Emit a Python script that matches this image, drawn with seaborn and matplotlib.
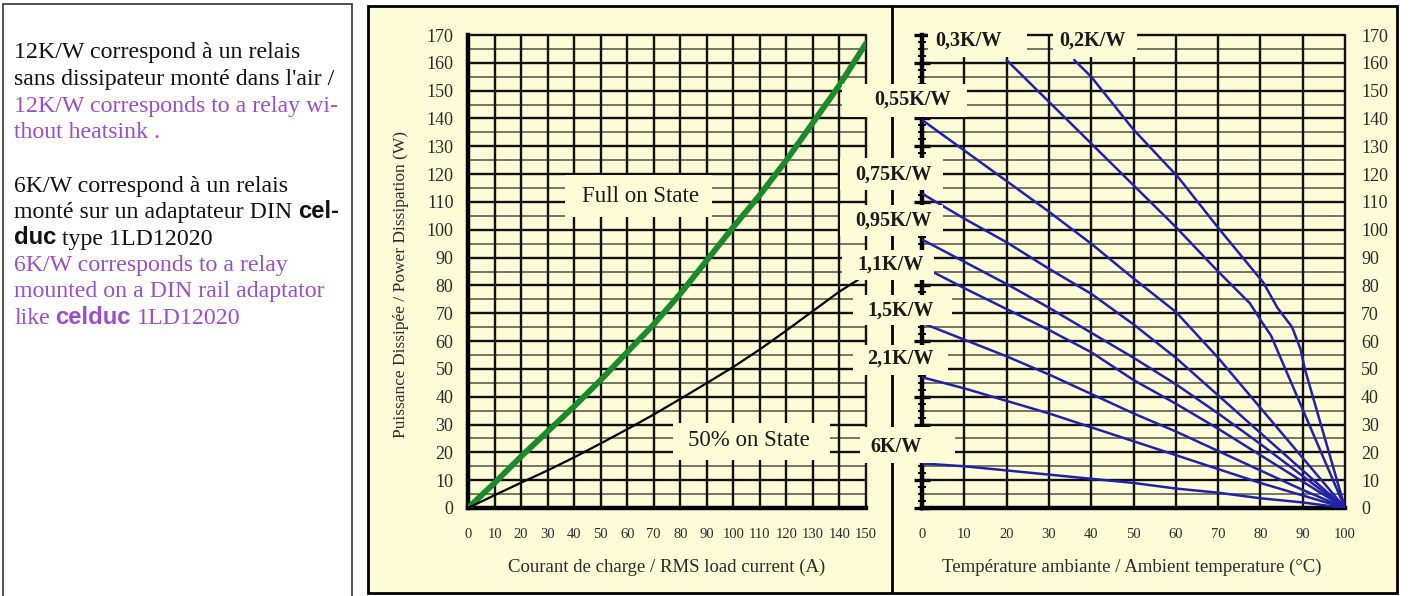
import numpy as np
import pandas as pd
import matplotlib
matplotlib.use("Agg")
import matplotlib.pyplot as plt
import seaborn as sns
from matplotlib.ticker import MultipleLocator
from matplotlib.patches import Rectangle
from matplotlib.lines import Line2D

# power dissipation vs RMS load current
current = [0, 10, 20, 30, 40, 50, 60, 70, 80, 90, 100, 110, 120, 130, 140, 150]
full_on = [0, 9, 18.5, 27.5, 36.5, 46, 56, 66, 77, 89, 101, 112.5, 125, 138.5, 152, 167]
half_current = [0, 10, 20, 30, 40, 50, 60, 70, 80, 90, 100, 110, 120, 130, 140, 147]
half_on = [0, 4.6, 9.1, 13.5, 18.2, 23.2, 28.3, 33.6, 39.2, 44.9, 50.7, 57, 63.8, 70.8, 77.8, 82]

# derating curves: power vs ambient temperature, one per heatsink rating
t_02 = [36, 40, 50, 60.5, 70.4, 80.7, 84, 87.5, 89.5, 90.5, 100]
p_02 = [161, 155, 136, 119, 100, 81, 72, 65, 57, 50, 0]
t_03 = [20, 30, 40, 50, 60, 70, 77.5, 80.5, 82.5, 100]
p_03 = [161, 146, 131, 116, 101, 85, 73.6, 66.5, 62, 0]
t_055 = [0, 10, 20, 30, 40, 50, 60, 70, 80, 90, 100]
p_055 = [139.5, 128.5, 117.5, 106.5, 95, 82.5, 70.5, 54, 36, 18, 0]
t_075 = [0, 10, 20, 30, 40, 50, 60, 70, 80, 90, 100]
p_075 = [113, 104, 95.5, 86, 77, 66, 54, 40.5, 27, 13.5, 0]
t_095 = [0, 10, 20, 30, 40, 50, 60, 70, 80, 90, 100]
p_095 = [96.5, 88.5, 80.5, 72, 63, 54, 44.5, 34, 23, 11.5, 0]
t_11 = [3, 10, 20, 30, 40, 50, 60, 70, 80, 90, 100]
p_11 = [84.5, 79, 71.5, 64, 56, 46, 37.5, 28.5, 19, 9.5, 0]
t_15 = [0, 10, 20, 30, 40, 50, 60, 70, 80, 90, 100]
p_15 = [66.5, 60.5, 54.5, 48, 41, 34, 27.5, 20.5, 13.5, 6.5, 0]
t_21 = [0, 10, 20, 30, 40, 50, 60, 70, 80, 90, 100]
p_21 = [47, 43, 38.5, 34, 29, 24, 19, 14, 9, 4.5, 0]
t_6 = [0, 10, 20, 30, 40, 50, 60, 70, 80, 90, 100]
p_6 = [16, 15, 13.5, 12, 10.5, 9, 7, 5.5, 3.5, 2, 0]

ratings = ["0,2K/W", "0,3K/W", "0,55K/W", "0,75K/W", "0,95K/W", "1,1K/W", "1,5K/W", "2,1K/W", "6K/W"]
temps = [t_02, t_03, t_055, t_075, t_095, t_11, t_15, t_21, t_6]
powers = [p_02, p_03, p_055, p_075, p_095, p_11, p_15, p_21, p_6]

derate = pd.concat([pd.DataFrame({"temp": t, "power": p, "rating": r})
                    for r, t, p in zip(ratings, temps, powers)], ignore_index=True)

yellow = "#fefcd6"
green = "#1b8a2a"
blue = "#2222a8"
purple = "#9a4fc9"

sns.set_style("white")
plt.rcParams["font.family"] = ["Liberation Serif", "DejaVu Serif"]

W, H = 1409, 596
fig = plt.figure(figsize=(W / 100, H / 100), dpi=100)
fig.patch.set_facecolor("white")


def fx(px):
    return px / W


def fy(py):
    return 1 - py / H


def fig_rect(x0, y0, x1, y1, **kw):
    r = Rectangle((fx(x0), fy(y1)), fx(x1) - fx(x0), fy(y0) - fy(y1),
                  transform=fig.transFigure, **kw)
    fig.add_artist(r)
    return r


# background panels
fig_rect(3, 4, 352, 620, facecolor="white", edgecolor="#333333", lw=1.2, zorder=-10)
fig_rect(368, 6, 1397, 593, facecolor=yellow, edgecolor="black", lw=2, zorder=-10)
fig.add_artist(Line2D([fx(892)] * 2, [fy(6), fy(593)], transform=fig.transFigure,
                      color="black", lw=2, zorder=2))

axL = fig.add_axes([fx(468), fy(508), fx(866) - fx(468), fy(35) - fy(508)])
axR = fig.add_axes([fx(922), fy(508), fx(1345) - fx(922), fy(35) - fy(508)])

for ax, xmax in [(axL, 150), (axR, 100)]:
    ax.set_facecolor("none")
    ax.set_xlim(0, xmax)
    ax.set_ylim(0, 170)
    for s in ["top", "right"]:
        ax.spines[s].set_visible(False)
    for s in ["left", "bottom"]:
        ax.spines[s].set_linewidth(3.2)
        ax.spines[s].set_color("black")
    for v in range(5, 171, 5):
        ax.axhline(v, color="#111111" if v % 10 == 0 else "#6a6a58",
                   lw=1.7 if v % 10 == 0 else 1.3, zorder=1, clip_on=False)
    for v in range(10, xmax + 1, 10):
        ax.axvline(v, color="#111111", lw=1.7, zorder=1, clip_on=False)
    ax.xaxis.set_major_locator(MultipleLocator(10))
    ax.yaxis.set_major_locator(MultipleLocator(10))
    ax.yaxis.set_minor_locator(MultipleLocator(2.5))
    ax.tick_params(which="major", direction="inout", length=11, width=2.4,
                   color="black", labelcolor="#2a2a2a")
    ax.tick_params(which="minor", direction="inout", length=6, width=1.4, color="black")
    ax.tick_params(axis="y", which="major", labelsize=13, pad=5)

axL.tick_params(axis="x", labelsize=10.5, pad=9)
axR.xaxis.set_minor_locator(MultipleLocator(5))
axR.tick_params(axis="x", labelsize=10.5, pad=9)
axR.tick_params(axis="y", which="both", left=True, right=False, labelleft=False, labelright=True)
axR.tick_params(axis="y", which="major", pad=6)

sns.lineplot(x=current, y=full_on, ax=axL, color=green, lw=4.2, sort=False,
             estimator=None, zorder=5)
sns.lineplot(x=half_current, y=half_on, ax=axL, color="black", lw=1.6, sort=False,
             estimator=None, zorder=5)
sns.lineplot(data=derate, x="temp", y="power", hue="rating", units="rating",
             palette={r: blue for r in ratings}, estimator=None, sort=False,
             legend=False, lw=1.8, ax=axR, zorder=5)
for ax in (axL, axR):
    ax.set_xlabel("")
    ax.set_ylabel("")

# label boxes that break the grid, then their text
boxes = [
    ("Full on State", (565, 175, 712, 217), (640, 196), 16.5, "normal"),
    ("50% on State", (673, 423, 830, 460), (749, 440), 16.5, "normal"),
    ("0,3K/W", (928, 27, 1027, 57), (968, 41), 14.5, "bold"),
    ("0,2K/W", (1053, 27, 1137, 57), (1092, 41), 14.5, "bold"),
    ("0,55K/W", (842, 84, 967, 117), (913, 100), 14.5, "bold"),
    ("0,75K/W", (840, 158, 943, 190), (893, 175), 14.5, "bold"),
    ("0,95K/W", (840, 205, 943, 236), (893, 221), 14.5, "bold"),
    ("1,1K/W", (842, 250, 934, 280), (891, 265), 14.5, "bold"),
    ("1,5K/W", (853, 295, 952, 325), (901, 311), 14.5, "bold"),
    ("2,1K/W", (853, 345, 948, 375), (900, 359), 14.5, "bold"),
    ("6K/W", (860, 427, 955, 463), (896, 447), 14.5, "bold"),
]
for txt, (x0, y0, x1, y1), (cx, cy), size, weight in boxes:
    fig_rect(x0, y0, x1, y1, facecolor=yellow, edgecolor="none", zorder=3)
    fig.text(fx(cx), fy(cy), txt, ha="center", va="center", fontsize=size,
             fontweight=weight, color="#1a1a1a", zorder=4)

# axis titles
fig.text(fx(667), fy(567), "Courant de charge / RMS load current (A)", ha="center",
         va="center", fontsize=13.5, color="#2a2a2a")
fig.text(fx(1132), fy(567), "Température ambiante / Ambient temperature (°C)",
         ha="center", va="center", fontsize=13.5, color="#2a2a2a")
fig.text(fx(401), fy(285), "Puissance Dissipée / Power Dissipation (W)", ha="center",
         va="center", rotation=90, fontsize=12.5, color="#2a2a2a")

# left note panel, built piece by piece so fonts can mix on a line
renderer = fig.canvas.get_renderer()
styles = {
    "k": dict(color="#111111", family=["Liberation Serif"]),
    "p": dict(color=purple, family=["Liberation Serif"]),
    "kb": dict(color="#111111", family=["Liberation Sans"], fontweight="bold"),
    "pb": dict(color=purple, family=["Liberation Sans"], fontweight="bold"),
}
note_lines = [
    (58, [("12K/W correspond à un relais", "k")]),
    (85, [("sans dissipateur monté dans l'air /", "k")]),
    (111.5, [("12K/W corresponds to a relay wi-", "p")]),
    (138, [("thout heatsink .", "p")]),
    (191.5, [("6K/W correspond à un relais", "k")]),
    (218, [("monté sur un adaptateur DIN", "k"), ("cel-", "kb")]),
    (244.5, [("duc", "kb"), ("type 1LD12020", "k")]),
    (271, [("6K/W corresponds to a relay", "p")]),
    (297.5, [("mounted on a DIN rail adaptator", "p")]),
    (324, [("like", "p"), ("celduc", "pb"), ("1LD12020", "p")]),
]
for base, parts in note_lines:
    x = 14
    for s, st in parts:
        t = fig.text(fx(x), fy(base), s, va="baseline", ha="left", fontsize=17.2, **styles[st])
        bb = t.get_window_extent(renderer)
        x = bb.x1 + 5.8

fig.savefig("out.png", dpi=100, facecolor="white")
